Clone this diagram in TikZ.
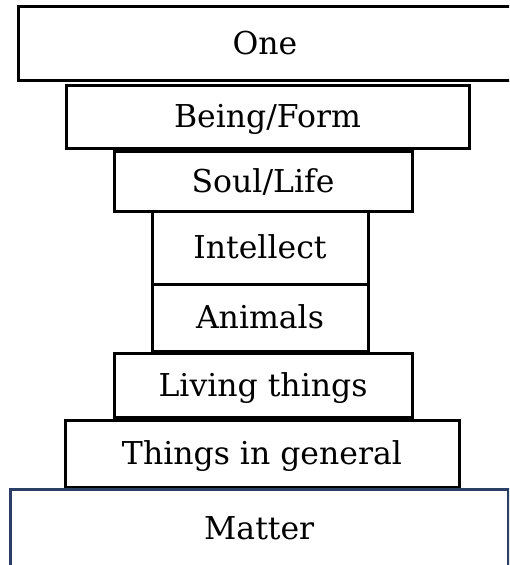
\documentclass[tikz,border=0pt]{standalone}
\usepackage{fontspec}
\setmainfont{DejaVu Serif}
\definecolor{matterblue}{HTML}{2B3F66}
\begin{document}
\begin{tikzpicture}[x=1pt, y=-1pt,
  tier/.style={draw=black, line width=3pt, rectangle, inner sep=0pt,
    font=\fontsize{31.5}{38}\selectfont, text height=22pt, text depth=0pt},
]
\useasboundingbox (0,0) rectangle (509,565);
\clip (0,0) rectangle (509,565);
\node[tier, minimum width=494pt, minimum height=74pt] (one) at (265,43) {One};
\node[tier, minimum width=403pt, minimum height=63pt] (being) at (267.5,116.5) {Being/Form};
\node[tier, minimum width=298pt, minimum height=60pt] (soul) at (263,181) {Soul/Life};
\node[tier, minimum width=216pt, minimum height=73pt] (intellect) at (260,247.5) {Intellect};
\node[tier, minimum width=216pt, minimum height=67pt] (animals) at (260,317.5) {Animals};
\node[tier, minimum width=298pt, minimum height=64pt] (living) at (263,385) {Living things};
\node[tier, minimum width=394pt, minimum height=67pt] (things) at (262,453.5) {Things in general};
\node[tier, draw=matterblue, minimum width=498.5pt, minimum height=78pt] (matter) at (259.25,528) {Matter};
\end{tikzpicture}
\end{document}
